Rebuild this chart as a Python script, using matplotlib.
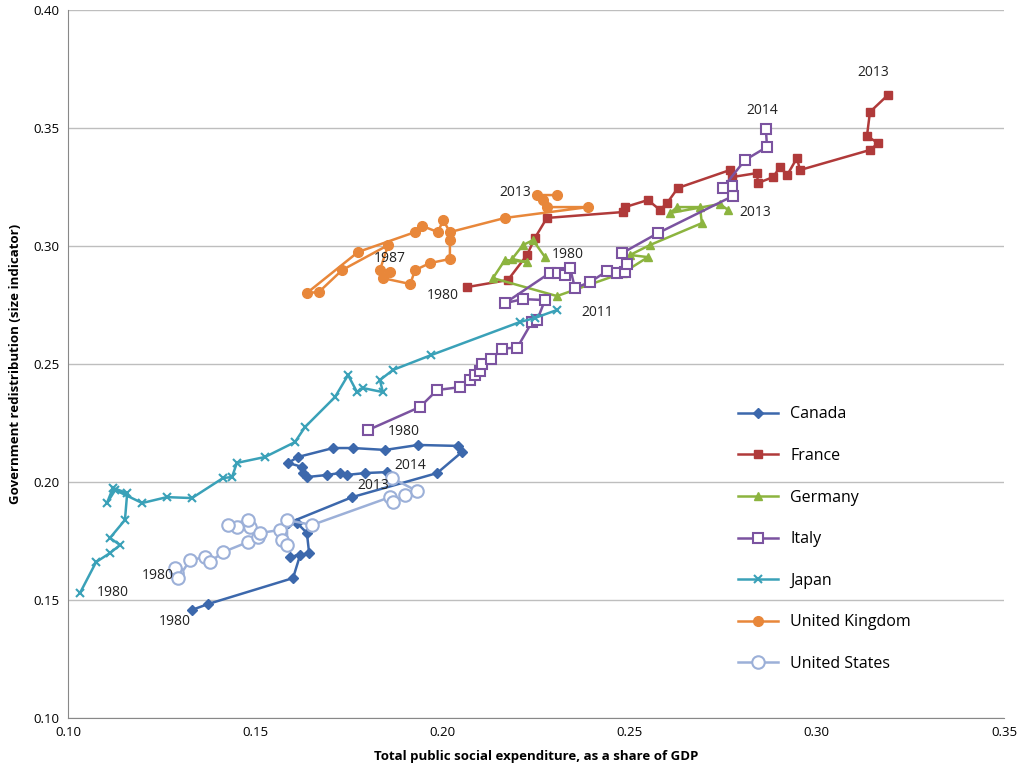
import matplotlib
matplotlib.use("Agg")
import matplotlib.pyplot as plt

plt.rcParams['font.family'] = ['Open Sans', 'DejaVu Sans']

canada_x = [0.1331,0.1374,0.1601,0.1620,0.1593,0.1644,0.1638,0.1612,0.1588,0.1759,0.1986,0.2052,0.2042,0.1935,0.1847,0.1761,0.1708,0.1614,0.1588,0.1625,0.1628,0.1638,0.1692,0.1726,0.1745,0.1793,0.1852]
canada_y = [0.1458,0.1483,0.1593,0.1691,0.1682,0.1699,0.1784,0.1826,0.1826,0.1936,0.2038,0.2127,0.2153,0.2157,0.2136,0.2144,0.2144,0.2106,0.2081,0.2064,0.2038,0.2021,0.2030,0.2038,0.2030,0.2038,0.2042]
france_x = [0.2066,0.2175,0.2226,0.2247,0.2279,0.2482,0.2488,0.2549,0.2581,0.2600,0.2629,0.2768,0.2773,0.2840,0.2843,0.2883,0.2902,0.2921,0.2947,0.2955,0.3142,0.3164,0.3134,0.3142,0.3190]
france_y = [0.2826,0.2856,0.2962,0.3034,0.3119,0.3144,0.3165,0.3195,0.3153,0.3182,0.3246,0.3322,0.3292,0.3309,0.3267,0.3292,0.3335,0.3301,0.3373,0.3322,0.3407,0.3436,0.3466,0.3568,0.3640]
germany_x = [0.2274,0.2242,0.2215,0.2186,0.2226,0.2167,0.2135,0.2306,0.2482,0.2549,0.2501,0.2554,0.2693,0.2688,0.2627,0.2608,0.2741,0.2763]
germany_y = [0.2953,0.3025,0.3004,0.2945,0.2932,0.2941,0.2864,0.2788,0.2886,0.2953,0.2962,0.3004,0.3097,0.3165,0.3165,0.3140,0.3178,0.3153]
italy_x = [0.1801,0.1940,0.1986,0.2047,0.2074,0.2087,0.2100,0.2105,0.2130,0.2160,0.2200,0.2240,0.2253,0.2274,0.2215,0.2167,0.2287,0.2309,0.2327,0.2341,0.2354,0.2394,0.2440,0.2466,0.2488,0.2493,0.2480,0.2576,0.2776,0.2773,0.2749,0.2808,0.2867,0.2864]
italy_y = [0.2220,0.2318,0.2390,0.2402,0.2432,0.2453,0.2470,0.2500,0.2520,0.2565,0.2570,0.2680,0.2686,0.2771,0.2775,0.2758,0.2886,0.2886,0.2877,0.2907,0.2822,0.2847,0.2894,0.2886,0.2890,0.2924,0.2970,0.3055,0.3212,0.3254,0.3246,0.3364,0.3420,0.3496]
japan_x = [0.1032,0.1075,0.1112,0.1139,0.1112,0.1152,0.1158,0.1120,0.1104,0.1126,0.1198,0.1264,0.1331,0.1414,0.1438,0.1451,0.1526,0.1606,0.1633,0.1713,0.1748,0.1772,0.1788,0.1841,0.1833,0.1868,0.1970,0.2207,0.2247,0.2306]
japan_y = [0.1530,0.1661,0.1699,0.1733,0.1763,0.1839,0.1953,0.1975,0.1911,0.1966,0.1911,0.1936,0.1932,0.2017,0.2021,0.2081,0.2106,0.2169,0.2233,0.2360,0.2453,0.2381,0.2398,0.2381,0.2432,0.2475,0.2538,0.2678,0.2695,0.2729]
uk_x = [0.2020,0.2020,0.1967,0.1927,0.1914,0.1841,0.1860,0.1833,0.1855,0.1732,0.1670,0.1638,0.1775,0.1927,0.1946,0.1988,0.2002,0.2020,0.2167,0.2389,0.2279,0.2269,0.2253,0.2306]
uk_y = [0.3025,0.2945,0.2928,0.2898,0.2839,0.2864,0.2890,0.2898,0.3004,0.2898,0.2805,0.2801,0.2975,0.3059,0.3085,0.3059,0.3110,0.3059,0.3119,0.3165,0.3165,0.3195,0.3216,0.3216]
us_x = [0.1291,0.1286,0.1294,0.1326,0.1366,0.1379,0.1414,0.1481,0.1507,0.1486,0.1451,0.1427,0.1481,0.1513,0.1566,0.1572,0.1585,0.1585,0.1652,0.1860,0.1868,0.1900,0.1932,0.1865]
us_y = [0.1614,0.1636,0.1593,0.1669,0.1682,0.1661,0.1703,0.1746,0.1767,0.1809,0.1809,0.1818,0.1839,0.1784,0.1797,0.1754,0.1733,0.1839,0.1818,0.1936,0.1915,0.1945,0.1962,0.2017]

labels = [("1980",0.1286,0.1411),("1980",0.1240,0.1606),("1980",0.1120,0.1530),("1980",0.1898,0.2212),
          ("2014",0.1913,0.2068),("2013",0.1815,0.1987),("1987",0.1860,0.2949),("2013",0.2195,0.3225),
          ("1980",0.2002,0.2792),("1980",0.2335,0.2966),("2011",0.2414,0.2720),("2013",0.2835,0.3144),
          ("2014",0.2854,0.3576),("2013",0.3150,0.3737)]

series = [
    ("Canada", canada_x, canada_y, "#3C68AC", "D", True, 5),
    ("France", france_x, france_y, "#B03A3A", "s", True, 6),
    ("Germany", germany_x, germany_y, "#8CB43F", "^", True, 6),
    ("Italy", italy_x, italy_y, "#7B53A0", "s", False, 7),
    ("Japan", japan_x, japan_y, "#3AA1B8", "x", True, 6),
    ("United Kingdom", uk_x, uk_y, "#E8873A", "o", True, 7),
    ("United States", us_x, us_y, "#9CB0D8", "o", False, 9),
]

fig = plt.figure(figsize=(10.2, 7.78), dpi=100)
ax = fig.add_axes([0.0667, 0.0771, 0.9176, 0.910])
for name, xs, ys, c, m, filled, ms in series:
    ax.plot(xs, ys, color=c, lw=1.8, marker=m, ms=ms,
            markerfacecolor=c if filled else "white", markeredgecolor=c,
            markeredgewidth=1.5 if m == "x" or not filled else 1, label=name)
for t, x, y in labels:
    ax.text(x, y, t, fontsize=10, ha="center", va="center", color="#222222")

ax.set_xlim(0.10, 0.35)
ax.set_ylim(0.10, 0.40)
ax.set_xticks([0.10,0.15,0.20,0.25,0.30,0.35])
ax.set_yticks([0.10,0.15,0.20,0.25,0.30,0.35,0.40])
ax.xaxis.set_major_formatter(matplotlib.ticker.FormatStrFormatter("%.2f"))
ax.yaxis.set_major_formatter(matplotlib.ticker.FormatStrFormatter("%.2f"))
ax.tick_params(labelsize=9.5, length=0, pad=6)
ax.grid(axis="y", color="#BEBEBE", lw=1)
ax.set_axisbelow(True)
for s in ["top","right"]:
    ax.spines[s].set_visible(False)
ax.spines["left"].set_color("#888888")
ax.spines["bottom"].set_color("#888888")
ax.set_xlabel("Total public social expenditure, as a share of GDP", fontsize=9.5, fontweight="bold", labelpad=8)
ax.set_ylabel("Government redistribution (size indicator)", fontsize=9.5, fontweight="bold", labelpad=8)
ax.legend(loc="lower left", bbox_to_anchor=(0.70, 0.045), frameon=False, fontsize=11.5,
          labelspacing=1.6, handlelength=2.5, markerscale=1.0)
fig.savefig("out.png", dpi=100)
